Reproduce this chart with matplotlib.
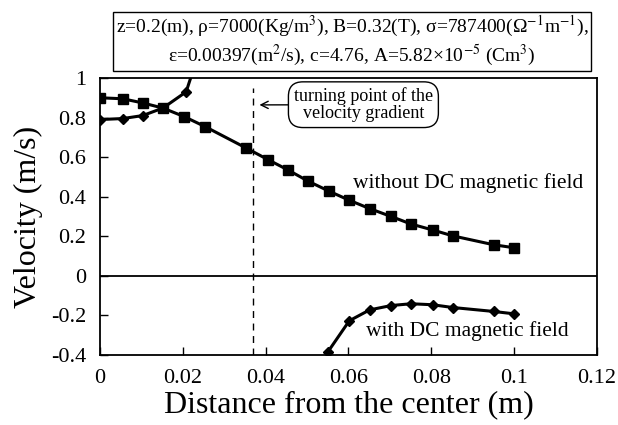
import matplotlib
matplotlib.use("Agg")
import matplotlib.pyplot as plt

# fonts: Times-like serif everywhere
plt.rcParams['font.family'] = ['Liberation Serif', 'DejaVu Serif']
plt.rcParams['mathtext.fontset'] = 'stix'

# -------------------------------
# Data
# -------------------------------
x_without = [0.0, 0.0055, 0.0103, 0.0152, 0.0203, 0.0254, 0.0353, 0.0405, 0.0454,
             0.0503, 0.0553, 0.0602, 0.0651, 0.0703, 0.0751, 0.0803, 0.0852,
             0.0951, 0.1]
v_without = [0.90, 0.895, 0.874, 0.848, 0.805, 0.754, 0.646, 0.588, 0.535,
             0.478, 0.428, 0.382, 0.340, 0.300, 0.262, 0.232, 0.202,
             0.157, 0.142]

x_with_a = [0.0, 0.0055, 0.0103, 0.0152, 0.0208, 0.025]
v_with_a = [0.79, 0.795, 0.81, 0.848, 0.93, 1.2]

x_with_b = [0.055, 0.0602, 0.0651, 0.0703, 0.0751, 0.0803, 0.0852, 0.0951, 0.1]
v_with_b = [-0.385, -0.227, -0.172, -0.150, -0.141, -0.146, -0.160, -0.180, -0.192]

x_turn = 0.037

xticks = [0, 0.02, 0.04, 0.06, 0.08, 0.1, 0.12]
xtick_labels = ['0', '0.02', '0.04', '0.06', '0.08', '0.1', '0.12']
yticks = [-0.4, -0.2, 0, 0.2, 0.4, 0.6, 0.8, 1]
ytick_labels = ['-0.4', '-0.2', '0', '0.2', '0.4', '0.6', '0.8', '1']

params = ("z=0.2(m), \u03c1=7000(Kg/m$^3$), B=0.32(T), \u03c3=787400(\u03a9$^{-1}$m$^{-1}$),\n"
          "\u03b5=0.00397(m$^2$/s), c=4.76, A=5.82\u00d710$^{-5}$ (Cm$^3$)")

# -------------------------------
# Figure
# -------------------------------
fig = plt.figure(figsize=(6.18, 4.25), dpi=100)
ax = fig.add_axes([0.1618, 0.1647, 0.966 - 0.1618, 0.8165 - 0.1647])

ax.plot(x_without, v_without, 'k-', lw=2.2, marker='s', ms=7)
ax.plot(x_with_a, v_with_a, 'k-', lw=2.2, marker='D', ms=5)
ax.plot(x_with_b, v_with_b, 'k-', lw=2.2, marker='D', ms=5)

# zero line and turning point
ax.axhline(0, color='k', lw=1.3)
ax.plot([x_turn, x_turn], [-0.4, 0.95], 'k--', lw=1.0, dashes=(5, 4))

ax.set_xlim(0, 0.12)
ax.set_ylim(-0.4, 1)
ax.set_xticks(xticks)
ax.set_xticklabels(xtick_labels)
ax.set_yticks(yticks)
ax.set_yticklabels(ytick_labels)
ax.tick_params(direction='in', length=6, width=1, labelsize=16, pad=10)
for s in ax.spines.values():
    s.set_linewidth(1.3)

ax.set_xlabel('Distance from the center (m)', fontsize=23, labelpad=2)
ax.set_ylabel('Velocity (m/s)', fontsize=23, labelpad=6)

# curve labels
ax.text(0.061, 0.47, 'without DC magnetic field', fontsize=15.5, va='center', ha='left')
ax.text(0.0643, -0.28, 'with DC magnetic field', fontsize=15.5, va='center', ha='left')

# turning point bubble with arrow
ax.annotate('turning point of the\nvelocity gradient', xy=(0.0385, 0.864),
            xytext=(0.0636, 0.865), fontsize=13, ha='center', va='center',
            linespacing=1.0,
            bbox=dict(boxstyle='round,pad=0.3,rounding_size=0.8', fc='white', ec='k', lw=1),
            arrowprops=dict(arrowstyle='->', color='k', lw=1, shrinkA=0, shrinkB=0))

# parameter box
fig.text(0.5696, 0.9035, params, fontsize=14, ha='center', va='center',
         linespacing=1.15,
         bbox=dict(boxstyle='square,pad=0.15', fc='white', ec='k', lw=1))

fig.savefig('out.png', dpi=100)
